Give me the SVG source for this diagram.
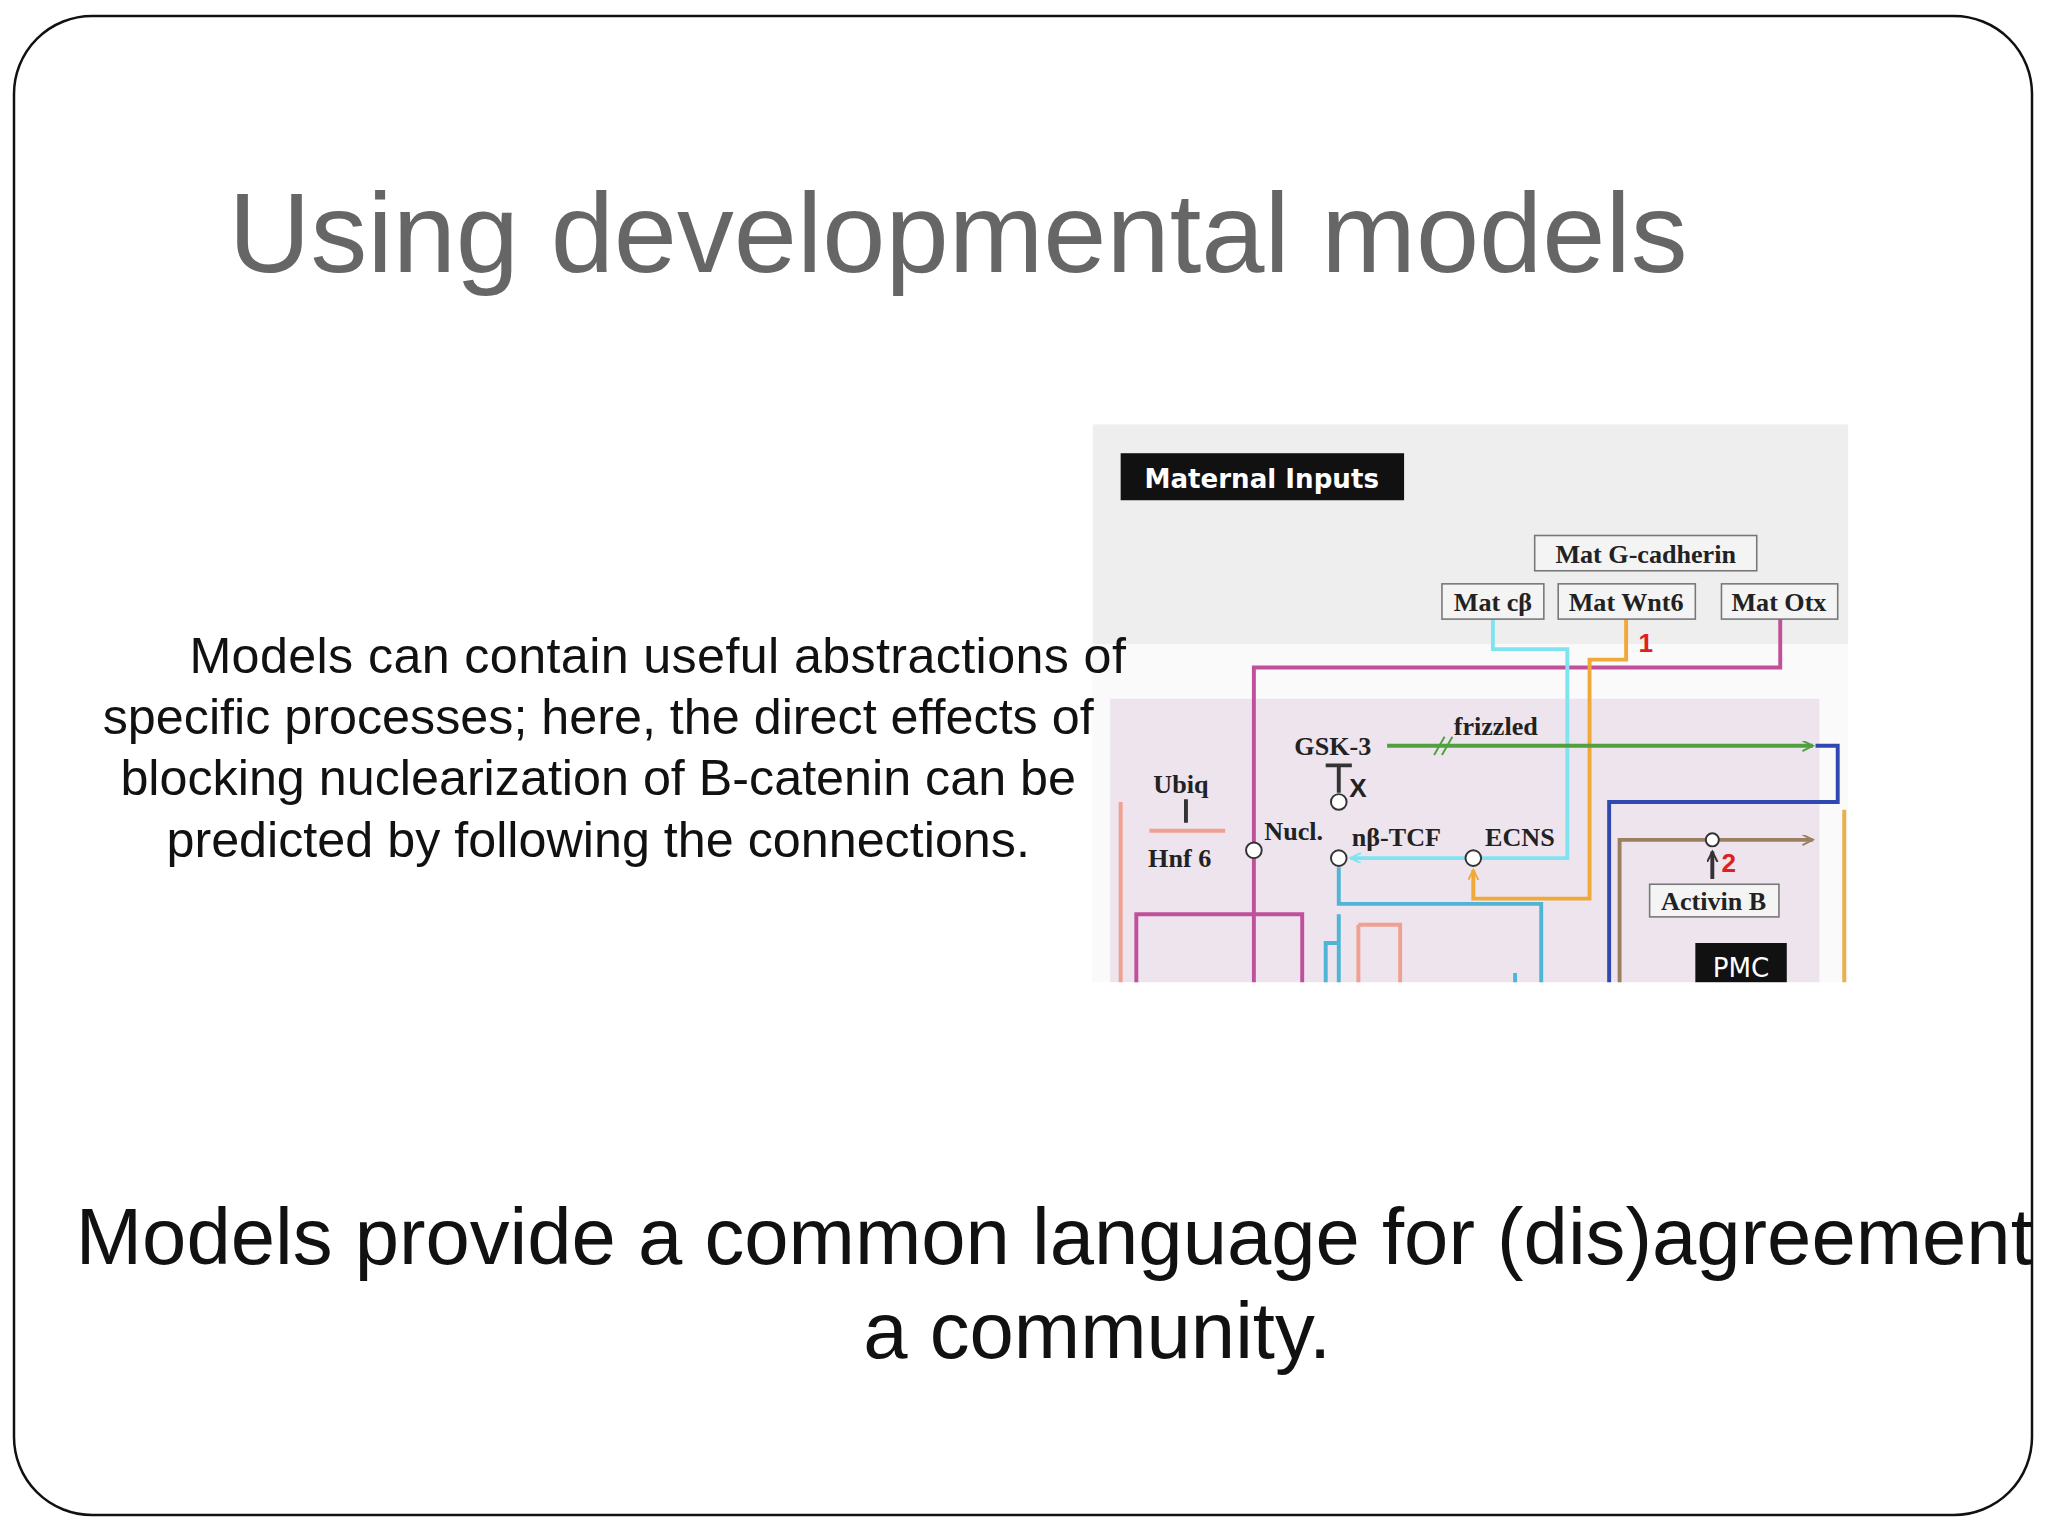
<svg xmlns="http://www.w3.org/2000/svg" width="2048" height="1536" viewBox="0 0 2048 1536">
<style>
.s{font-family:"Liberation Sans",Arial,sans-serif}
.r{font-family:"Liberation Serif","Times New Roman",serif;font-weight:bold;font-size:20px;fill:#222}
.bx{fill:#f4f4f4;stroke:#777;stroke-width:1.2}
.ln{fill:none;stroke-width:3}
.c{fill:#fff;stroke:#333;stroke-width:1.5}
</style>
<defs>
<marker id="ah" markerUnits="userSpaceOnUse" markerWidth="10" markerHeight="10" refX="8" refY="4" orient="auto"><path d="M0,0L8,4L0,8" fill="none" stroke="context-stroke" stroke-width="1.5"/></marker>
<clipPath id="fr"><rect x="14" y="16" width="2018" height="1499" rx="78"/></clipPath>
</defs>
<rect width="2048" height="1536" fill="#fff"/>
<rect x="14" y="16" width="2018" height="1499" rx="78" fill="#fff" stroke="#111" stroke-width="2.5"/>
<g clip-path="url(#fr)">
<g transform="scale(1.30612)">
<text class="s" x="175" y="208" font-size="87" fill="#666">Using developmental models</text>
<text class="s" x="58" y="968" font-size="61" fill="#111">Models provide a common language for (dis)agreement in</text>
<text class="s" x="840" y="1040" font-size="61" fill="#111" text-anchor="middle">a community.</text>

<g id="diagram">
<rect x="836" y="325" width="579" height="427" fill="#fafafa"/>
<rect x="837" y="325" width="578" height="168" fill="#eeeeee"/>
<rect x="850" y="535" width="543" height="217" fill="#ede4ee"/>
<g id="maternal"><rect x="858" y="347" width="217" height="36" fill="#111"/><text x="966" y="374" text-anchor="middle" font-family="DejaVu Sans,sans-serif" font-weight="bold" font-size="20" fill="#fff">Maternal Inputs</text></g>
<g id="connectors">
<path class="ln" stroke="#c0509a" d="M1363,474V511H960V645M960,657V752M870,752V700H997V752"/>
<path class="ln" stroke="#80e4f0" d="M1143,474V497H1200V657H1034" marker-end="url(#ah)"/>
<path class="ln" stroke="#f0a838" d="M1245,474V505H1217V688H1128V666" marker-end="url(#ah)"/>
<path class="ln" stroke="#e8b048" d="M1412,620V752"/>
<path class="ln" stroke="#50a040" d="M1062,571H1388" marker-end="url(#ah)"/>
<path class="ln" stroke="#3048b0" d="M1390,571H1407V614H1232V752"/>
<path class="ln" stroke="#9a8060" stroke-width="2" d="M1240,752V643H1388" marker-end="url(#ah)"/>
<path class="ln" stroke="#50b4d4" stroke-width="5" d="M1025,664V692H1180V752M1015,752V722H1025M1025,700V752M1160,752V745"/>
<path class="ln" stroke="#f0a090" d="M858,752V614M880,636H938M1040,708H1072V752M1040,708V752"/>
<path class="ln" stroke="#333" stroke-width="1.5" d="M908,612V630M1025,586V607M1015,586H1035M1311,673V652" marker-end="url(#ah)"/>
<path stroke="#50a040" stroke-width="1.5" d="M1098,578L1106,564M1104,578L1112,564"/>
</g>
<circle class="c" cx="960" cy="651" r="6"/>
<circle class="c" cx="1025" cy="657" r="6"/>
<circle class="c" cx="1128" cy="657" r="6"/>
<circle class="c" cx="1025" cy="614" r="6"/>
<circle class="c" cx="1311" cy="643" r="5"/>
<g id="gcad"><rect class="bx" x="1175" y="410" width="170" height="27"/><text class="r" x="1260" y="431" text-anchor="middle">Mat G-cadherin</text></g>
<g id="matcb"><rect class="bx" x="1104" y="447" width="78" height="27"/><text class="r" x="1143" y="468" text-anchor="middle">Mat cβ</text></g>
<g id="wnt6"><rect class="bx" x="1193" y="447" width="105" height="27"/><text class="r" x="1245" y="468" text-anchor="middle">Mat Wnt6</text></g>
<g id="otx"><rect class="bx" x="1318" y="447" width="89" height="27"/><text class="r" x="1362" y="468" text-anchor="middle">Mat Otx</text></g>
<text x="1260" y="499" font-family="Liberation Sans,sans-serif" font-weight="bold" font-size="20" fill="#e02020" text-anchor="middle">1</text>
<text class="r" x="1113" y="563">frizzled</text>
<text class="r" x="991" y="578">GSK-3</text>
<text x="1033" y="610" font-family="Liberation Sans,sans-serif" font-weight="bold" font-size="20" fill="#222">X</text>
<text class="r" x="883" y="607">Ubiq</text>
<text class="r" x="879" y="664">Hnf 6</text>
<text class="r" x="968" y="643">Nucl.</text>
<text class="r" x="1035" y="648">nβ-TCF</text>
<text class="r" x="1137" y="648">ECNS</text>
<text x="1318" y="668" font-family="Liberation Sans,sans-serif" font-weight="bold" font-size="20" fill="#e02020">2</text>
<g id="activin"><rect class="bx" x="1263" y="677" width="99" height="25"/><text class="r" x="1312" y="697" text-anchor="middle">Activin B</text></g>
<g id="pmc"><rect x="1298" y="722" width="70" height="30" fill="#111"/><text x="1333" y="748" text-anchor="middle" font-family="DejaVu Sans,sans-serif" font-size="20" fill="#fff">PMC</text></g>
</g>
<g class="s" font-size="38.5" fill="#111">
<text x="145" y="515" textLength="717">Models can contain useful abstractions of</text>
<text x="458" y="562" text-anchor="middle">specific processes; here, the direct effects of</text>
<text x="458" y="609" text-anchor="middle">blocking nuclearization of B-catenin can be</text>
<text x="458" y="656" text-anchor="middle">predicted by following the connections.</text>
</g>
</g>
</g>
</svg>
